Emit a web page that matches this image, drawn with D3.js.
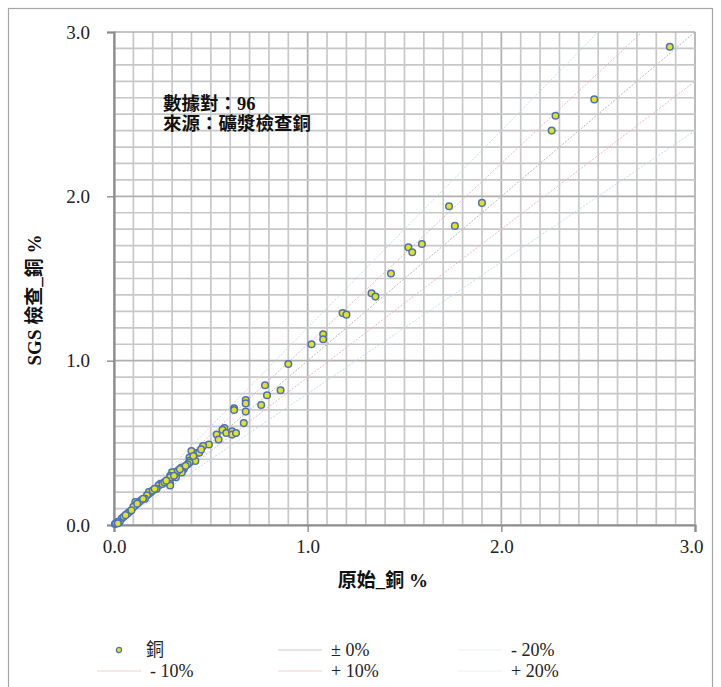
<!DOCTYPE html>
<html>
<head>
<meta charset="utf-8">
<title>SGS 檢查 銅</title>
<script src="https://cdn.jsdelivr.net/npm/d3@7"></script>
<style>
* { margin: 0; padding: 0; }
body { background: #fff; }
svg { display: block; }
</style>
</head>
<body>
<div id="chart"></div>
<script>
// original vs check Cu %
var origCu = [
	2.87, 2.48, 2.28, 2.26, 1.90, 1.73, 1.76, 1.59, 1.52, 1.54, 1.43, 1.33, 1.35, 1.18, 1.20, 1.08, 1.08, 1.02,
	0.90, 0.78, 0.86, 0.79, 0.68, 0.68, 0.76, 0.62, 0.68, 0.67, 0.57, 0.56, 0.58, 0.61, 0.61, 0.63, 0.53, 0.54,
	0.49, 0.46, 0.40, 0.43, 0.44, 0.39, 0.39, 0.42, 0.39, 0.38, 0.36, 0.35, 0.35, 0.35, 0.31, 0.30, 0.29, 0.32, 0.30, 0.29,
	0.29, 0.29, 0.24, 0.23, 0.22, 0.19, 0.18, 0.18, 0.17, 0.16, 0.14, 0.13, 0.11, 0.11, 0.10, 0.08, 0.07, 0.04, 0.03, 0.02, 0.005,
	0.01, 0.02, 0.05, 0.06, 0.09, 0.12, 0.15, 0.20, 0.21, 0.25, 0.26, 0.27, 0.33, 0.34, 0.37, 0.41, 0.45, 0.31, 0.62
];
var checkCu = [
	2.91, 2.59, 2.49, 2.40, 1.96, 1.94, 1.82, 1.71, 1.69, 1.66, 1.53, 1.41, 1.39, 1.29, 1.28, 1.16, 1.13, 1.10,
	0.98, 0.85, 0.82, 0.79, 0.76, 0.74, 0.73, 0.71, 0.69, 0.62, 0.59, 0.58, 0.56, 0.57, 0.55, 0.56, 0.55, 0.52,
	0.49, 0.48, 0.45, 0.44, 0.44, 0.41, 0.39, 0.39, 0.38, 0.37, 0.34, 0.35, 0.33, 0.32, 0.32, 0.32, 0.30, 0.29, 0.29, 0.29,
	0.25, 0.24, 0.25, 0.24, 0.22, 0.20, 0.19, 0.20, 0.18, 0.16, 0.15, 0.14, 0.14, 0.12, 0.11, 0.08, 0.07, 0.04, 0.02, 0.02, 0.006,
	0.01, 0.01, 0.05, 0.06, 0.09, 0.13, 0.16, 0.21, 0.22, 0.25, 0.26, 0.27, 0.33, 0.34, 0.36, 0.42, 0.46, 0.30, 0.70
];
var tickValues = [ 0, 1, 2, 3 ];
var refFactors = [ 1.0, 0.8, 0.9, 1.1, 1.2 ];
var refColors = { '1': '#b9b9b9', '0.9': '#f2b6be', '1.1': '#f2b6be', '0.8': '#bfe0f0', '1.2': '#bfe0f0' };
var legendItems = [
	{ label: '銅', type: 'dot' },
	{ label: '± 0%', type: 'line', color: '#c8c8c8' },
	{ label: '- 20%', type: 'line', color: '#e4f1f8' },
	{ label: '- 10%', type: 'line', color: '#f6ccd2' },
	{ label: '+ 10%', type: 'line', color: '#f6ccd2' },
	{ label: '+ 20%', type: 'line', color: '#e4f1f8' }
];
var notes = [ '數據對：96', '來源：礦漿檢查銅' ];

var W = 721, H = 687;
var serif = '"Liberation Serif", "Times New Roman", "Noto Sans CJK TC", serif';
var dotFill = '#e4e21e', dotStroke = '#4b72b8';

var svg = d3.select( '#chart' ).append( 'svg' )
	.attr( 'width', W )
	.attr( 'height', H );

svg.append( 'rect' )
	.attr( 'x', 8.5 ).attr( 'y', 8.5 )
	.attr( 'width', 704 ).attr( 'height', 700 )
	.style( 'fill', '#fff' )
	.style( 'stroke', '#a6a6a6' )
	.style( 'stroke-width', 1.2 );

var x = d3.scaleLinear().domain( [ 0, 3 ] ).range( [ 114, 695 ] );
var y = d3.scaleLinear().domain( [ 0, 3 ] ).range( [ 525, 32 ] );

// grid every 0.1
var grid = d3.range( 0, 31 ).map( function ( i ) { return i / 10; } );
var g = svg.append( 'g' );
g.selectAll( 'line.gx' )
	.data( grid )
	.enter()
	.append( 'line' )
	.attr( 'x1', function ( d ) { return x( d ); } )
	.attr( 'x2', function ( d ) { return x( d ); } )
	.attr( 'y1', y( 0 ) )
	.attr( 'y2', y( 3 ) )
	.style( 'stroke', function ( d, i ) { return i % 10 === 0 ? '#b0b0b0' : '#c8c8c8'; } )
	.style( 'stroke-width', 1.7 );
g.selectAll( 'line.gy' )
	.data( grid )
	.enter()
	.append( 'line' )
	.attr( 'y1', function ( d ) { return y( d ); } )
	.attr( 'y2', function ( d ) { return y( d ); } )
	.attr( 'x1', x( 0 ) )
	.attr( 'x2', x( 3 ) )
	.style( 'stroke', function ( d, i ) { return i % 10 === 0 ? '#b0b0b0' : '#c8c8c8'; } )
	.style( 'stroke-width', 1.7 );

// reference lines
svg.append( 'clipPath' ).attr( 'id', 'plot' )
	.append( 'rect' )
	.attr( 'x', x( 0 ) ).attr( 'y', y( 3 ) )
	.attr( 'width', x( 3 ) - x( 0 ) ).attr( 'height', y( 0 ) - y( 3 ) );

svg.append( 'g' ).attr( 'clip-path', 'url(#plot)' )
	.selectAll( 'line' )
	.data( refFactors )
	.enter()
	.append( 'line' )
	.attr( 'x1', x( 0 ) )
	.attr( 'y1', y( 0 ) )
	.attr( 'x2', function ( f ) { return x( Math.min( 3, 3 / f ) ); } )
	.attr( 'y2', function ( f ) { return y( f * Math.min( 3, 3 / f ) ); } )
	.style( 'stroke', function ( f ) { return refColors[String( f )]; } )
	.style( 'stroke-width', 1 )
	.style( 'stroke-dasharray', '2,1.5' );

// axes
var yAxis = svg.append( 'g' )
	.attr( 'transform', 'translate(' + x( 0 ) + ',0)' )
	.call( d3.axisLeft( y ).tickValues( tickValues ).tickFormat( d3.format( '.1f' ) ).tickSize( 7 ).tickPadding( 17 ) );
var xAxis = svg.append( 'g' )
	.attr( 'transform', 'translate(0,' + y( 0 ) + ')' )
	.call( d3.axisBottom( x ).tickValues( tickValues ).tickFormat( d3.format( '.1f' ) ).tickSize( 7 ).tickPadding( 8 ) );

[ xAxis, yAxis ].forEach( function ( a ) {
	a.select( '.domain' ).style( 'stroke', '#8c8c8c' ).style( 'stroke-width', 2.2 );
	a.selectAll( '.tick line' ).style( 'stroke', '#8c8c8c' ).style( 'stroke-width', 1.4 );
	a.selectAll( '.tick text' )
		.style( 'font-family', serif )
		.style( 'font-size', '19px' )
		.style( 'fill', '#222' );
} );
xAxis.selectAll( '.tick text' ).attr( 'dx', function ( d ) { return d === 3 ? '-4' : '0'; } );

// points
svg.append( 'g' )
	.selectAll( 'circle' )
	.data( origCu.map( function ( d, i ) { return [ d, checkCu[i] ]; } ) )
	.enter()
	.append( 'circle' )
	.attr( 'cx', function ( d ) { return x( d[0] ); } )
	.attr( 'cy', function ( d ) { return y( d[1] ); } )
	.attr( 'r', 3.3 )
	.style( 'fill', dotFill )
	.style( 'stroke', dotStroke )
	.style( 'stroke-width', 1.5 );

// annotation
svg.append( 'g' )
	.selectAll( 'text' )
	.data( notes )
	.enter()
	.append( 'text' )
	.attr( 'x', 163 )
	.attr( 'y', function ( d, i ) { return 110 + i * 20; } )
	.text( function ( d ) { return d; } )
	.style( 'font-family', serif )
	.style( 'font-weight', 'bold' )
	.style( 'font-size', '18.5px' )
	.style( 'fill', '#111' );

// axis titles
svg.append( 'text' )
	.attr( 'x', 383 )
	.attr( 'y', 587 )
	.attr( 'text-anchor', 'middle' )
	.text( '原始_銅 %' )
	.style( 'font-family', serif )
	.style( 'font-weight', 'bold' )
	.style( 'font-size', '19px' )
	.style( 'fill', '#111' );

svg.append( 'text' )
	.attr( 'transform', 'translate(41,300) rotate(-90)' )
	.attr( 'text-anchor', 'middle' )
	.text( 'SGS 檢查_銅 %' )
	.style( 'font-family', serif )
	.style( 'font-weight', 'bold' )
	.style( 'font-size', '19px' )
	.style( 'fill', '#111' );

// legend, 3 columns
var colX = [ 97, 278, 458 ];
var rowY = [ 650, 671 ];
var leg = svg.append( 'g' )
	.selectAll( 'g' )
	.data( legendItems )
	.enter()
	.append( 'g' )
	.attr( 'transform', function ( d, i ) {
		return 'translate(' + colX[i % 3] + ',' + rowY[Math.floor( i / 3 )] + ')';
	} );

leg.filter( function ( d ) { return d.type === 'line'; } )
	.append( 'line' )
	.attr( 'x1', 0 ).attr( 'x2', 44 )
	.attr( 'y1', 0 ).attr( 'y2', 0 )
	.style( 'stroke', function ( d ) { return d.color; } )
	.style( 'stroke-width', 1 );

leg.filter( function ( d ) { return d.type === 'dot'; } )
	.append( 'circle' )
	.attr( 'cx', 22 ).attr( 'cy', 0 )
	.attr( 'r', 2.6 )
	.style( 'fill', dotFill )
	.style( 'stroke', dotStroke )
	.style( 'stroke-width', 1.2 );

leg.append( 'text' )
	.attr( 'x', function ( d ) { return d.type === 'dot' ? 49 : 53; } )
	.attr( 'y', 6 )
	.text( function ( d ) { return d.label; } )
	.style( 'font-family', serif )
	.style( 'font-size', '18px' )
	.style( 'fill', '#222' );
</script>
</body>
</html>
